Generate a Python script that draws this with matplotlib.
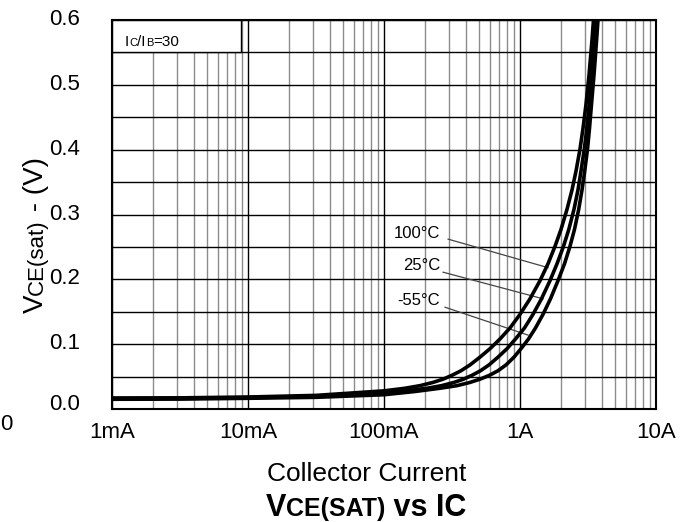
import numpy as np
import matplotlib
matplotlib.use("Agg")
import matplotlib.pyplot as plt
from matplotlib.transforms import IdentityTransform, ScaledTranslation
from matplotlib.patches import Rectangle
from matplotlib.ticker import LogLocator, MultipleLocator, NullFormatter, FixedLocator, FixedFormatter

plt.rcParams['font.family'] = ['Liberation Sans', 'DejaVu Sans']

# ---------------- data ----------------
x_ticks = [0.001, 0.01, 0.1, 1, 10]
x_tick_labels = ['1mA', '10mA', '100mA', '1A', '10A']
y_ticks = [0.0, 0.1, 0.2, 0.3, 0.4, 0.5, 0.6]
y_tick_labels = ['0.0', '0.1', '0.2', '0.3', '0.4', '0.5', '0.6']

series_names = ['100°C', '25°C', '-55°C']

# collector current (A) / VCE(sat) (V)
i_100 = [0.001, 0.00316, 0.01, 0.0316, 0.1, 0.1427, 0.1839, 0.2293, 0.2716, 0.3162, 0.3683,
         0.4290, 0.5080, 0.6017, 0.7126, 0.8443, 1.0, 1.1846, 1.4033, 1.6067, 1.8092, 2.0023,
         2.2164, 2.4131, 2.5818, 2.7621, 2.9063, 3.0570, 3.2170, 3.3838, 3.4700]
v_100 = [0.017, 0.0172, 0.0185, 0.021, 0.028, 0.032, 0.036, 0.041, 0.046, 0.052, 0.059,
         0.068, 0.080, 0.093, 0.108, 0.125, 0.146, 0.170, 0.198, 0.224, 0.251, 0.277,
         0.308, 0.338, 0.367, 0.401, 0.433, 0.470, 0.515, 0.569, 0.600]

i_25 = [0.001, 0.00316, 0.01, 0.0316, 0.1, 0.1451, 0.2072, 0.2648, 0.3271, 0.3843, 0.4437,
        0.5124, 0.5917, 0.6891, 0.8025, 0.9267, 1.0792, 1.2463, 1.4389, 1.6616, 1.8713,
        2.0890, 2.2851, 2.4951, 2.6703, 2.8083, 2.9709, 3.0996, 3.2274, 3.3669, 3.5120, 3.5907]
v_25 = [0.016, 0.0163, 0.0175, 0.0195, 0.024, 0.028, 0.032, 0.036, 0.041, 0.046, 0.052,
        0.059, 0.068, 0.080, 0.093, 0.108, 0.125, 0.146, 0.170, 0.198, 0.224,
        0.251, 0.277, 0.308, 0.338, 0.367, 0.401, 0.433, 0.470, 0.515, 0.569, 0.600]

i_m55 = [0.001, 0.00316, 0.01, 0.0316, 0.1, 0.1690, 0.2581, 0.3441, 0.4290, 0.5080, 0.5966,
         0.6891, 0.7891, 0.9035, 1.0171, 1.1548, 1.3002, 1.4763, 1.6758, 1.9031, 2.1245,
         2.3316, 2.5159, 2.7022, 2.8576, 2.9908, 3.1363, 3.2434, 3.3553, 3.4995, 3.6574, 3.7450]
v_m55 = [0.015, 0.0153, 0.0165, 0.018, 0.022, 0.027, 0.032, 0.036, 0.041, 0.046, 0.052,
         0.059, 0.068, 0.080, 0.093, 0.108, 0.125, 0.146, 0.170, 0.198, 0.224,
         0.251, 0.277, 0.308, 0.338, 0.367, 0.401, 0.433, 0.470, 0.515, 0.569, 0.600]

# label text positions (A, V) and leader line ends
label_xy = [(0.258, 0.270), (0.258, 0.221), (0.258, 0.168)]
leader_start = [(0.296, 0.262), (0.272, 0.211), (0.281, 0.157)]
leader_end = [(1.607, 0.218), (1.476, 0.170), (1.145, 0.114)]

# ---------------- figure ----------------
W, H = 693, 522
fig = plt.figure(figsize=(W / 100, H / 100), dpi=100)
ax = fig.add_axes([112 / W, 1 - 409 / H, (656 - 112) / W, (409 - 20) / H])
ax.set_xscale('log')
ax.set_xlim(0.001, 10)
ax.set_ylim(0.0, 0.6)

ax.xaxis.set_major_locator(FixedLocator(x_ticks))
ax.xaxis.set_major_formatter(FixedFormatter(x_tick_labels))
ax.xaxis.set_minor_locator(LogLocator(base=10, subs=np.arange(2, 10), numticks=20))
ax.xaxis.set_minor_formatter(NullFormatter())
ax.yaxis.set_major_locator(FixedLocator(y_ticks))
ax.yaxis.set_major_formatter(FixedFormatter(y_tick_labels))
ax.yaxis.set_minor_locator(MultipleLocator(0.05))

ax.grid(True, which='major', color='black', lw=1.0)
ax.grid(True, which='minor', color='black', lw=1.0)
ax.set_axisbelow(True)
ax.tick_params(which='both', length=0)
ax.tick_params(axis='x', labelsize=16, pad=9)
ax.tick_params(axis='y', labelsize=16, pad=23)
for sp in ax.spines.values():
    sp.set_linewidth(1.5)
    sp.set_color('black')

# lighter minor gridlines in first decade
for tick in ax.xaxis.get_minor_ticks():
    if tick.get_loc() < 0.0099:
        tick.gridline.set_color('#8c8c8c')

# lift y tick labels slightly
for lab in ax.get_yticklabels():
    dy = 7 if lab.get_text() == '0.0' else 3
    lab.set_transform(lab.get_transform() + ScaledTranslation(0, dy / 100, fig.dpi_scale_trans))

# curves
for xs, ys in [(i_100, v_100), (i_25, v_25), (i_m55, v_m55)]:
    ax.plot(xs, ys, color='black', lw=2.6, solid_joinstyle='round', zorder=3)

# labels with leader lines
for name, (tx, ty), (sx, sy), (ex, ey) in zip(series_names, label_xy, leader_start, leader_end):
    ax.text(tx, ty, name, ha='right', va='center', fontsize=12, zorder=4)
    ax.plot([sx, ex], [sy, ey], color='#444444', lw=0.9, zorder=2.8)

# Ic/Ib box
box_right = 0.00889
ax.add_patch(Rectangle((0.001, 0.55), box_right - 0.001, 0.05, facecolor='white',
                       edgecolor='black', lw=1.0, zorder=2.5))

fig.canvas.draw()
renderer = fig.canvas.get_renderer()


def mixed(x, y, pieces, rotation=0, center=False):
    arts = []
    pos = 0.0
    for txt, size, weight in pieces:
        if rotation == 0:
            t = fig.text(x + pos, y, txt, transform=IdentityTransform(), fontsize=size,
                         fontweight=weight, ha='left', va='baseline',
                         rotation_mode='anchor', rotation=0)
        else:
            t = fig.text(x, y + pos, txt, transform=IdentityTransform(), fontsize=size,
                         fontweight=weight, ha='left', va='baseline',
                         rotation_mode='anchor', rotation=90)
        ext = t.get_window_extent(renderer)
        pos += ext.width if rotation == 0 else ext.height
        arts.append(t)
    if center:
        for t in arts:
            px, py = t.get_position()
            if rotation == 0:
                t.set_position((px - pos / 2, py))
            else:
                t.set_position((px, py - pos / 2))
    return arts


# box text: I C / I B = 30
mixed(125, H - 46, [('I', 11, 'normal'), ('C', 8, 'normal'), ('/I', 11, 'normal'),
                    ('B', 8, 'normal'), ('=30', 11, 'normal')])

# y label
mixed(43, H - 235, [('V', 20, 'normal'), ('CE(sat)', 16, 'normal'), (' - (V)', 20, 'normal')],
      rotation=90, center=True)

# x label
fig.text(367, H - 481, 'Collector Current', transform=IdentityTransform(), fontsize=19,
         ha='center', va='baseline')

# title
mixed(366, H - 516, [('V', 22, 'bold'), ('CE(SAT)', 18, 'bold'), (' vs IC', 22, 'bold')],
      center=True)

# stray glyph at left edge
fig.text(0, H - 425, '0', transform=IdentityTransform(), fontsize=16, ha='left', va='center')

fig.savefig('out.png', dpi=100)
